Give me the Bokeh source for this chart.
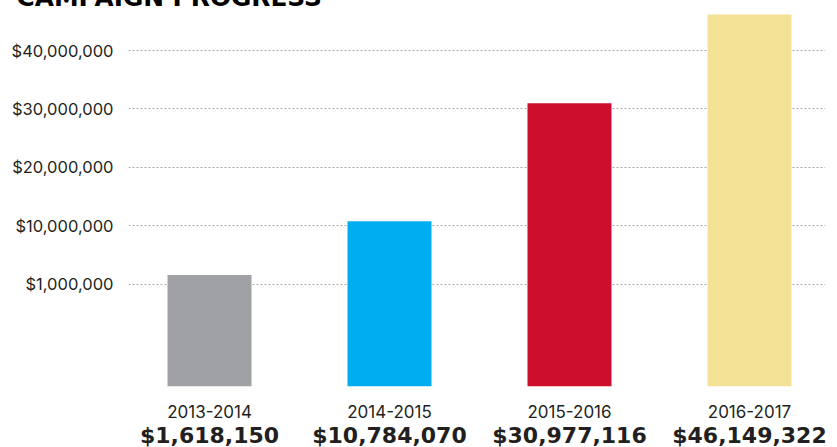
from bokeh.plotting import figure
from bokeh.models import Range1d, FixedTicker, LinearAxis, NumeralTickFormatter
from bokeh.embed import file_html
from bokeh.resources import INLINE

# ---- data ----
title_text = "CAMPAIGN PROGRESS"
categories = ["2013-2014", "2014-2015", "2015-2016", "2016-2017"]
amounts = [1618150, 10784070, 30977116, 46149322]
bar_colors = ["#A0A1A4", "#00AEEF", "#CE0E2D", "#F3E295"]
y_ticks = [0, 10000000, 20000000, 30000000, 40000000]
y_tick_labels = ["$1,000,000", "$10,000,000", "$20,000,000", "$30,000,000", "$40,000,000"]

idx = list(range(len(categories)))
amount_labels = ["${:,}".format(v) for v in amounts]

TOP = 40          # border above the frame (title area)
FRAME_TOP = 13    # page y of the frame's top edge
FRAME_H = 386 - FRAME_TOP
BOTTOM = 80
W = 837
H = TOP + FRAME_H + BOTTOM
y_start, y_end = -17.46e6, 46.33e6

p = figure(width=W, height=H, output_backend="svg", toolbar_location=None,
           x_range=Range1d(-0.45, 3.4222), y_range=Range1d(y_start, y_end),
           min_border_left=128, min_border_right=12, min_border_top=TOP,
           min_border_bottom=BOTTOM, outline_line_color=None, background_fill_color="white",
           border_fill_color="white")
p.styles = {"position": "absolute", "left": "0px", "top": "-%dpx" % (TOP - FRAME_TOP)}

TXT = "#231F20"
FONT = "Inter"

# title (cut off at the top edge like the reference)
p.title.text = title_text
p.title.align = "left"
p.title.offset = -112
p.title.standoff = 3
p.title.vertical_align = "bottom"
p.title.text_font = "DejaVu Sans"
p.title.text_font_size = "24.8px"
p.title.text_font_style = "bold"
p.title.text_color = "#000000"

# y axis
ya = p.yaxis[0]
ya.ticker = FixedTicker(ticks=y_ticks)
ya.formatter = NumeralTickFormatter(format="$0,0")
ya.major_label_overrides = {t: l for t, l in zip(y_ticks, y_tick_labels)}
ya.axis_line_color = None
ya.major_tick_line_color = None
ya.minor_tick_line_color = None
ya.major_tick_out = 0
ya.major_tick_in = 0
ya.major_label_standoff = 15
ya.major_label_text_font = FONT
ya.major_label_text_font_size = "16.5px"
ya.major_label_text_color = TXT

# grid
p.xgrid.visible = False
p.ygrid.ticker = FixedTicker(ticks=y_ticks)
p.ygrid.grid_line_color = "#a8a8a8"
p.ygrid.grid_line_dash = "2 2"
p.ygrid.grid_line_width = 1

# bars
p.vbar(x=idx, width=0.4667, top=amounts, bottom=y_start, color=bar_colors, line_color=None)

# x axis: years
xa = p.xaxis[0]
xa.ticker = FixedTicker(ticks=idx)
xa.major_label_overrides = {i: c for i, c in zip(idx, categories)}
xa.axis_line_color = None
xa.major_tick_line_color = None
xa.minor_tick_line_color = None
xa.major_tick_out = 0
xa.major_tick_in = 0
xa.major_label_standoff = 18
xa.major_label_text_font = FONT
xa.major_label_text_font_size = "17px"
xa.major_label_text_color = TXT

# second x axis: amounts
xa2 = LinearAxis(ticker=FixedTicker(ticks=idx),
                 major_label_overrides={i: a for i, a in zip(idx, amount_labels)})
xa2.axis_line_color = None
xa2.major_tick_line_color = None
xa2.minor_tick_line_color = None
xa2.major_tick_out = 0
xa2.major_tick_in = 0
xa2.major_label_standoff = 2
xa2.major_label_text_font = "DejaVu Sans"
xa2.major_label_text_font_size = "22px"
xa2.major_label_text_font_style = "bold"
xa2.major_label_text_color = TXT
p.add_layout(xa2, "below")

open("out.html", "w").write(file_html(p, INLINE))
